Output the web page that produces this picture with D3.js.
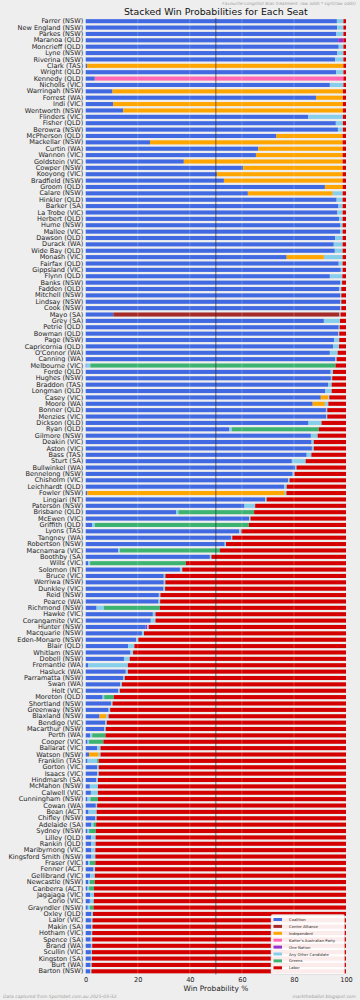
<!DOCTYPE html>
<html><head><meta charset="utf-8">
<script src="https://cdn.jsdelivr.net/npm/d3@7"></script>
<style>html,body{margin:0;padding:0;background:#eeeeee;}svg{display:block;font-family:"DejaVu Sans",sans-serif;}</style>
</head><body><svg id="c" width="360" height="1000"></svg>
<script>
const seats = ["Farrer (NSW)","New England (NSW)","Parkes (NSW)","Maranoa (QLD)","Moncrieff (QLD)","Lyne (NSW)","Riverina (NSW)","Clark (TAS)","Wright (QLD)","Kennedy (QLD)",
"Nicholls (VIC)","Warringah (NSW)","Forrest (WA)","Indi (VIC)","Wentworth (NSW)","Flinders (VIC)","Fisher (QLD)","Berowra (NSW)","McPherson (QLD)","Mackellar  (NSW)",
"Curtin (WA)","Wannon (VIC)","Goldstein (VIC)","Cowper (NSW)","Kooyong (VIC)","Bradfield (NSW)","Groom (QLD)","Calare (NSW)","Hinkler (QLD)","Barker (SA)",
"La Trobe (VIC)","Herbert (QLD)","Hume (NSW)","Mallee (VIC)","Dawson (QLD)","Durack (WA)","Wide Bay (QLD)","Monash (VIC)","Fairfax (QLD)","Gippsland (VIC)",
"Flynn (QLD)","Banks (NSW)","Fadden (QLD)","Mitchell (NSW)","Lindsay (NSW)","Cook (NSW)","Mayo (SA)","Grey (SA)","Petrie (QLD)","Bowman (QLD)",
"Page (NSW)","Capricornia (QLD)","O'Connor (WA)","Canning (WA)","Melbourne (VIC)","Forde (QLD)","Hughes (NSW)","Braddon (TAS)","Longman (QLD)","Casey (VIC)",
"Moore (WA)","Bonner (QLD)","Menzies (VIC)","Dickson (QLD)","Ryan (QLD)","Gilmore (NSW)","Deakin (VIC)","Aston (VIC)","Bass (TAS)","Sturt  (SA)",
"Bullwinkel (WA)","Bennelong (NSW)","Chisholm (VIC)","Leichhardt (QLD)","Fowler (NSW)","Lingiari (NT)","Paterson (NSW)","Brisbane (QLD)","McEwen (VIC)","Griffith (QLD)",
"Lyons (TAS)","Tangney (WA)","Robertson (NSW)","Macnamara (VIC)","Boothby (SA)","Wills (VIC)","Solomon (NT)","Bruce (VIC)","Werriwa (NSW)","Dunkley (VIC)",
"Reid (NSW)","Pearce (WA)","Richmond (NSW)","Hawke (VIC)","Corangamite (VIC)","Hunter (NSW)","Macquarie (NSW)","Eden-Monaro (NSW)","Blair (QLD)","Whitlam (NSW)",
"Dobell (NSW)","Fremantle (WA)","Hasluck (WA)","Parramatta (NSW)","Swan (WA)","Holt (VIC)","Moreton (QLD)","Shortland (NSW)","Greenway (NSW)","Blaxland (NSW)",
"Bendigo (VIC)","Macarthur (NSW)","Perth (WA)","Cooper (VIC)","Ballarat (VIC)","Watson (NSW)","Franklin (TAS)","Gorton (VIC)","Isaacs (VIC)","Hindmarsh (SA)",
"McMahon (NSW)","Calwell (VIC)","Cunningham (NSW)","Cowan (WA)","Bean (ACT)","Chifley (NSW)","Adelaide (SA)","Sydney (NSW)","Lilley (QLD)","Rankin (QLD)",
"Maribyrnong (VIC)","Kingsford Smith (NSW)","Fraser (VIC)","Fenner (ACT)","Gellibrand (VIC)","Newcastle (NSW)","Canberra (ACT)","Jagajaga (VIC)","Corio (VIC)","Grayndler (NSW)",
"Oxley (QLD)","Lalor (VIC)","Makin (SA)","Hotham (VIC)","Spence (SA)","Brand (WA)","Scullin (VIC)","Kingston (SA)","Burt (WA)","Barton (NSW)"];

const coalition = [96.5,96.6,96.3,97.0,97.2,96.7,95.8,0.5,96.2,3.5,
93.8,10.3,88.5,10.6,14.4,85.4,96.1,96.9,73.3,24.7,
66.3,65.4,37.7,60.5,50.4,53.1,91.9,62.3,96.4,97.1,
96.7,97.3,97.7,97.7,95.8,95.3,95.7,77.2,97.2,98.0,
93.8,97.8,97.3,97.7,97.7,97.8,10.6,91.5,97.2,97.0,
95.4,95.0,93.8,95.8,0.3,94.1,94.2,93.2,92.1,90.3,
87.2,92.3,92.4,85.6,55.2,86.5,86.8,86.9,84.9,79.2,
80.4,79.5,77.8,76.2,0.6,68.9,61.0,34.7,62.8,2.5,
59.0,55.8,53.4,12.5,47.7,1.0,36.2,30.0,30.0,29.9,
28.1,28.0,4.2,25.8,25.0,23.0,21.6,19.4,16.3,17.2,
14.7,1.0,15.4,14.4,13.3,12.5,6.5,9.7,8.8,5.3,
7.5,7.1,1.7,0.7,4.4,1.3,0.7,4.4,4.4,4.1,
1.6,2.0,0.7,3.9,1.1,3.7,2.2,0.7,2.1,2.1,
2.2,2.2,1.0,3.0,1.7,1.0,0.7,1.7,1.6,0.8,
2.2,2.0,2.1,2.0,1.9,2.0,2.0,2.0,1.9,1.7];

const centreAlliance = [0,0,0,0,0,0,0,0,0,0, 0,0,0,0,0,0,0,0,0,0, 0,0,0,0,0,0,0,0,0,0,
0,0,0,0,0,0,0,0,0,0, 0,0,0,0,0,0,86.9,0,0,0, 0,0,0,0,0,0,0,0,0,0,
0,0,0,0,0,0,0,0,0,0, 0,0,0,0,0,0,0,0,0,0, 0,0,0,0,0,0,0,0,0,0,
0,0,0,0,0,0,0,0,0,0, 0,0,0,0,0,0,0,0,0,0, 0,0,0,0,0,0,0,0,0,0,
0,0,0,0,0,0,0,0,0,0, 0,0,0,0,0,0,0,0,0,0, 0,0,0,0,0,0,0,0,0,0];

const independent = [0,0,0,0,0,0,0,98.5,0,0,
0,88.5,10.3,88.2,84.4,0,0,0,25.4,74.0,
32.4,33.3,61.0,38.2,48.3,45.6,6.8,32.6,0,0,
0,0,0,0,0,0,0,14.3,0,0,
0,0,0,0,0,0,0,0,0,0,
0,0,0,0,0,0,0,0,0,2.9,
4.7,0,0,0,0,0,0,0,0,0,
0,0,0,0,75.9,0,0,0,0,0,
0,0,0,0,0,0,0,0,0,0,
0,0,0,0,0,0,0,0,0,0,
0,0,0,0,0,0,0,0,0,2.7,
0,0,0,0,0,3.7,0,0,0,0,
0,0,0,0,0,0,0,0,0,0,
0,0,0,0,0,0,0,0,0,0,
0,0,0,0,0,0,0,0,0,0];

const katter = [0,0,0,0,0,0,0,0,0,95.5, 0,0,0,0,0,0,0,0,0,0, 0,0,0,0,0,0,0,0,0,0,
0,0,0,0,0,0,0,0,0,0, 0,0,0,0,0,0,0,0,0,0, 0,0,0,0,0,0,0,0,0,0,
0,0,0,0,0,0,0,0,0,0, 0,0,0,0,0,0,0,0,0,0, 0,0,0,0,0,0,0,0,0,0,
0,0,0,0,0,0,0,0,0,0, 0,0,0,0,0,0,0,0,0,0, 0,0,0,0,0,0,0,0,0,0,
0,0,0,0,0,0,0,0,0,0, 0,0,0,0,0,0,0,0,0,0, 0,0,0,0,0,0,0,0,0,0];

const oneNation = [0,0,0,2.0,0,0,0,0,0,0, 0,0,0,0,0,0,0,0,0,0, 0,0,0,0,0,0,0,0,0,0,
0,0,0,0,0,0,0,0,0,0, 0,0,0,0,0,0,0,0,0,0, 0,0,0,0,0,0,0,0,0,0,
0,0,0,0,0,0,0,0,0,0, 0,0,0,0,0,0,0,0,0,0, 0,0,0,0,0,0,0,0,0,0,
0,0,0,0,0,0.6,0,0,0,0, 0,0,0,0,0,0,0,0,0,0, 0,0,0,0,0,0,0,0,0,0,
0,0,0,0,0,0,0,0,0,0, 0,0,0,0,0,0,0,0,0,0, 0,0,0,0,0,0,0,0,0,0];

const otherCandidate = [2.5,2.4,2.7,0,1.8,2.3,3.2,0,2.8,0,
5.2,0,0,0,0,13.4,2.7,1.9,0,0,
0,0,0,0,0,0,0,3.8,2.3,1.6,
2.0,1.4,1.0,1.0,2.9,3.4,3.0,7.2,1.5,0.7,
4.8,0.7,0.9,0.5,0.5,0.4,0.4,6.2,0.4,0.4,
2.0,2.3,3.0,0.6,1.5,0.9,0.5,1.3,2.4,0.4,
1.3,0.5,0.4,5.0,0.9,2.6,0.8,0.7,1.8,5.3,
0.6,0.7,0.5,1.0,0.6,0.6,4.1,0.9,0.5,1.0,
0.8,0.5,0.5,0.6,0.6,0.7,0.9,0.6,0.6,0.6,
0.6,0.6,2.8,1.0,1.8,0.6,0.8,0.8,2.4,1.0,
2.2,15.2,0.8,0.6,0.6,0.6,0.6,0.6,0.6,0.8,
0.6,0.6,0.8,0.6,1.3,0.7,3.7,0.6,0.6,0.6,
3.1,2.7,1.1,0.5,3.1,0.5,0.8,0.6,1.7,1.7,
1.5,1.5,0.6,0.6,1.8,0.6,0.6,1.5,1.5,0.8,
0.6,0.6,0.5,0.5,0.6,0.5,0.4,0.4,0.4,0.5];

const greens = [0,0,0,0,0,0,0,0,0,0, 0,0,0,0,0,0,0,0,0,0, 0,0,0,0,0,0,0,0,0,0,
0,0,0,0,0,0,0,0,0,0, 0,0,0,0,0,0,0,0,0,0, 0,0,0,0,94.2,0,0,0,0,0,
0,0,0,0,33.5,0,0,0,0,0, 0,0,0,0,0,0,0,29.1,0,59.2, 0,0,0,38.5,0,36.8,0,0,0,0,
0,0,21.5,0,0,0,0,0,0,0, 0,0,0,0,0,0,3.7,0,0,0, 0,0,5.1,5.5,0,0,0.6,0,0,0,
0,0,2.9,0,0,0,1.0,2.6,0,0, 0,0,2.1,0,0,1.9,1.9,0,0,1.4, 0,0,0,0,0,0,0,0,0,0];

const labor = [1.0,1.0,1.0,1.0,1.0,1.0,1.0,1.0,1.0,1.0,
1.0,1.2,1.2,1.2,1.2,1.2,1.2,1.2,1.3,1.3,
1.3,1.3,1.3,1.3,1.3,1.3,1.3,1.3,1.3,1.3,
1.3,1.3,1.3,1.3,1.3,1.3,1.3,1.3,1.3,1.3,
1.4,1.5,1.8,1.8,1.8,1.8,2.1,2.3,2.4,2.6,
2.6,2.7,3.2,3.6,4.0,5.0,5.3,5.5,5.5,6.4,
6.8,7.2,7.2,9.4,10.4,10.9,12.4,12.4,13.3,15.5,
19.0,19.8,21.7,22.8,22.9,30.5,34.9,35.3,36.7,37.3,
40.2,43.7,46.1,48.4,51.7,61.5,62.9,69.4,69.4,69.5,
71.3,71.4,71.5,73.2,73.2,75.8,77.6,79.8,81.3,81.8,
83.1,83.8,83.8,85.0,86.1,86.9,89.2,89.7,90.6,91.2,
91.9,92.3,92.4,93.2,94.3,94.3,95.0,95.0,95.0,95.3,
95.3,95.3,95.3,95.6,95.8,95.8,96.0,96.1,96.2,96.2,
96.3,96.3,96.3,96.4,96.5,96.5,96.8,96.8,96.9,97.0,
97.2,97.4,97.4,97.5,97.5,97.5,97.6,97.6,97.7,97.8];

const partyNames = ["Coalition","Centre Alliance","Independent","Katter's Australian Party","One Nation","Any Other Candidate","Greens","Labor"];
const partyColors = ["#4169e1","#a52a2a","#ffa500","#ff69b4","#9932cc","#87ceeb","#3cb371","#d40000"];
const xTicks = [0,20,40,60,80,100];

(function(){
const seriesArrays = [coalition,centreAlliance,independent,katter,oneNation,otherCandidate,greens,labor];
const table = seats.map((s,i)=>{const r={seat:s}; partyNames.forEach((p,k)=>r[p]=seriesArrays[k][i]); return r;});

const svg = d3.select("#c");
svg.append("rect").attr("width",360).attr("height",1000).attr("fill","#eeeeee");

const pLeft=85.7, pRight=346, pTop=18, pBottom=974.5;
const x = d3.scaleLinear().domain([0,100]).range([pLeft,pRight]);
const y = d3.scaleBand().domain(seats).range([pTop,pBottom]).paddingInner(0.36).paddingOuter(0.18);
const color = d3.scaleOrdinal().domain(partyNames).range(partyColors);

const stack = d3.stack().keys(partyNames)(table);
svg.append("g").selectAll("g").data(stack).join("g").attr("fill",d=>color(d.key))
  .selectAll("rect").data(d=>d.filter(v=>v[1]-v[0]>0)).join("rect")
  .attr("x",d=>x(d[0])).attr("width",d=>x(d[1])-x(d[0]))
  .attr("y",d=>y(d.data.seat)).attr("height",y.bandwidth());

svg.append("g").selectAll("line").data([20,40,60,80]).join("line")
  .attr("x1",d=>x(d)).attr("x2",d=>x(d)).attr("y1",pTop).attr("y2",pBottom)
  .attr("stroke","#ffffff").attr("stroke-opacity",0.35).attr("stroke-width",0.6);
svg.append("line").attr("x1",x(50)).attr("x2",x(50)).attr("y1",pTop).attr("y2",pBottom)
  .attr("stroke","#222").attr("stroke-width",0.6);

const ya = svg.append("g").attr("transform",`translate(${pLeft},0)`)
  .call(d3.axisLeft(y).tickSize(0).tickPadding(2.5));
ya.select(".domain").remove();
ya.selectAll("text").attr("font-size",6.55).attr("fill","#222").attr("font-family","DejaVu Sans");

const xa = svg.append("g").attr("transform",`translate(0,${pBottom})`)
  .call(d3.axisBottom(x).tickValues(xTicks).tickSize(0).tickPadding(2.6));
xa.select(".domain").remove();
xa.selectAll("text").attr("font-size",6.6).attr("fill","#222").attr("font-family","DejaVu Sans");

svg.append("text").attr("x",(pLeft+pRight)/2).attr("y",991.3).attr("text-anchor","middle")
  .attr("font-size",7.4).attr("fill","#222").text("Win Probability %");

svg.append("text").attr("x",(pLeft+pRight)/2).attr("y",15.2).attr("text-anchor","middle")
  .attr("font-size",9.4).attr("fill","#111").text("Stacked Win Probabilities for Each Seat");
svg.append("text").attr("x",356).attr("y",5).attr("text-anchor","end")
  .attr("font-size",4.3).attr("fill","#a0a0a0").attr("font-style","italic").text("Favourite-Longshot Bias treatment: raw odds * sqrt(raw odds)");

svg.append("text").attr("x",3).attr("y",997.5).attr("font-size",4.5).attr("fill","#a0a0a0").attr("font-style","italic")
  .text("Data captured from Sportsbet.com.au 2025-03-32.");
svg.append("text").attr("x",356).attr("y",997.5).attr("text-anchor","end").attr("font-size",4.5).attr("fill","#a0a0a0").attr("font-style","italic")
  .text("marktheballot.blogspot.com");

const lg = svg.append("g").attr("transform","translate(271,914.5)");
lg.append("rect").attr("width",73.5).attr("height",60).attr("rx",1.5).attr("fill","#ffffff").attr("fill-opacity",0.92).attr("stroke","#cccccc").attr("stroke-width",0.5);
const li = lg.selectAll("g.it").data(partyNames).join("g").attr("class","it")
  .attr("transform",(d,i)=>`translate(2.5,${3.5+i*6.9})`);
li.append("rect").attr("width",8.5).attr("height",3).attr("fill",d=>color(d));
li.append("text").attr("x",15.5).attr("y",3).attr("font-size",3.8).attr("fill","#222").text(d=>d);
})();
</script></body></html>
